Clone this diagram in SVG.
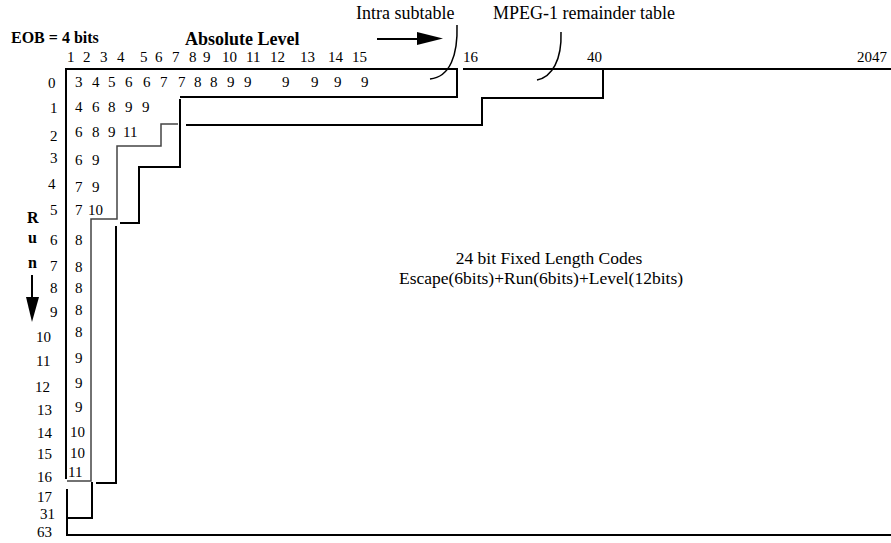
<svg xmlns="http://www.w3.org/2000/svg" width="891" height="543" viewBox="0 0 891 543">
<style>
text{font-family:"Liberation Serif","Times New Roman",serif;fill:#000}
.b{font-weight:bold}
.n{font-size:15px}
.h{font-size:15px}
.lab{font-size:18px}
.ln{fill:none;stroke:#000;stroke-width:2}
.in{fill:none;stroke:#444;stroke-width:1.5}
</style>
<rect width="891" height="543" fill="#fff"/>
<g id="titles">
<text class="b" x="11" y="43" font-size="16">EOB = 4 bits</text>
<text class="b" x="185" y="45" font-size="18">Absolute Level</text>
<text class="lab" x="356" y="19">Intra subtable</text>
<text class="lab" x="493" y="19">MPEG-1 remainder table</text>
</g>
<g id="header" class="h">
<text x="67" y="62">1</text><text x="83" y="62">2</text><text x="100" y="62">3</text><text x="117" y="62">4</text>
<text x="140" y="62">5</text><text x="155" y="62">6</text><text x="172" y="62">7</text><text x="189" y="62">8</text>
<text x="203" y="62">9</text><text x="222" y="62">10</text><text x="246" y="62">11</text><text x="270" y="62">12</text>
<text x="300" y="62">13</text><text x="328" y="62">14</text><text x="352" y="62">15</text>
<text x="463" y="62">16</text><text x="587" y="62">40</text><text x="857" y="62">2047</text>
</g>
<g id="runlabels" class="n">
<text x="48" y="88">0</text><text x="50" y="113">1</text><text x="50" y="141">2</text><text x="50" y="163">3</text>
<text x="48" y="189">4</text><text x="50" y="215">5</text><text x="50" y="245">6</text><text x="50" y="271">7</text>
<text x="50" y="293">8</text><text x="50" y="317">9</text><text x="36" y="342">10</text><text x="36" y="366">11</text>
<text x="35" y="392">12</text><text x="37" y="415">13</text><text x="37" y="438">14</text><text x="37" y="459">15</text>
<text x="37" y="482">16</text><text x="37" y="502">17</text><text x="40" y="519">31</text><text x="37" y="537">63</text>
</g>
<g id="intra-subtable" class="n">
<text x="75" y="87">3</text><text x="92" y="87">4</text><text x="108" y="87">5</text><text x="125" y="87">6</text>
<text x="143" y="87">6</text><text x="160" y="87">7</text><text x="178" y="87">7</text><text x="194" y="87">8</text>
<text x="210" y="87">8</text><text x="227" y="87">9</text><text x="244" y="87">9</text><text x="282" y="87">9</text>
<text x="311" y="87">9</text><text x="334" y="87">9</text><text x="361" y="87">9</text>
<text x="75" y="112">4</text><text x="92" y="112">6</text><text x="108" y="112">8</text><text x="125" y="112">9</text><text x="142" y="112">9</text>
<text x="75" y="137">6</text><text x="92" y="137">8</text><text x="108" y="137">9</text><text x="123" y="137">11</text>
<text x="75" y="165">6</text><text x="92" y="165">9</text>
<text x="75" y="192">7</text><text x="92" y="192">9</text>
<text x="75" y="215">7</text><text x="88" y="215">10</text>
<text x="75" y="245">8</text><text x="75" y="272">8</text><text x="75" y="293">8</text><text x="75" y="315">8</text>
<text x="75" y="337">8</text><text x="75" y="363">9</text><text x="75" y="388">9</text><text x="75" y="412">9</text>
<text x="70" y="437">10</text><text x="70" y="458">10</text><text x="68" y="477">11</text>
</g>
<g id="run-axis">
<text class="b" x="27" y="223" font-size="16">R</text>
<text class="b" x="28" y="243" font-size="16">u</text>
<text class="b" x="28" y="268" font-size="16">n</text>
<line x1="32" y1="275" x2="32" y2="299" stroke="#000" stroke-width="2"/>
<polygon points="26,297 39,297 32,322" fill="#000"/>
</g>
<g id="escape-region">
<text x="549" y="264" text-anchor="middle" font-size="17.5">24 bit Fixed Length Codes</text>
<text x="541" y="284" text-anchor="middle" font-size="17.5">Escape(6bits)+Run(6bits)+Level(12bits)</text>
</g>
<g id="connectors">
<path class="ln" d="M66,479 V69 H457 V97 H180"/>
<path class="ln" d="M463,69 H891"/>
<path class="ln" d="M603,69 V98 H482 V125 H186"/>
<path class="ln" d="M180,99 V167 H139 V223 H120"/>
<path class="ln" d="M116,226 V483 H96"/>
<path class="in" d="M178,124 H161 V146 H117 V219 H91 V481 H67"/>
<path class="ln" d="M92,482 V518 H67"/>
<path class="ln" d="M67,489 V535 H891"/>
<path fill="none" stroke="#000" stroke-width="1.5" d="M457,25 C458,55 450,77 430,79"/>
<path fill="none" stroke="#000" stroke-width="1.5" d="M561,32 C562,60 552,77 537,80"/>
<line x1="377" y1="39" x2="420" y2="39" stroke="#000" stroke-width="2"/>
<polygon points="417,32 443,38.5 417,45" fill="#000"/>
</g>
</svg>
